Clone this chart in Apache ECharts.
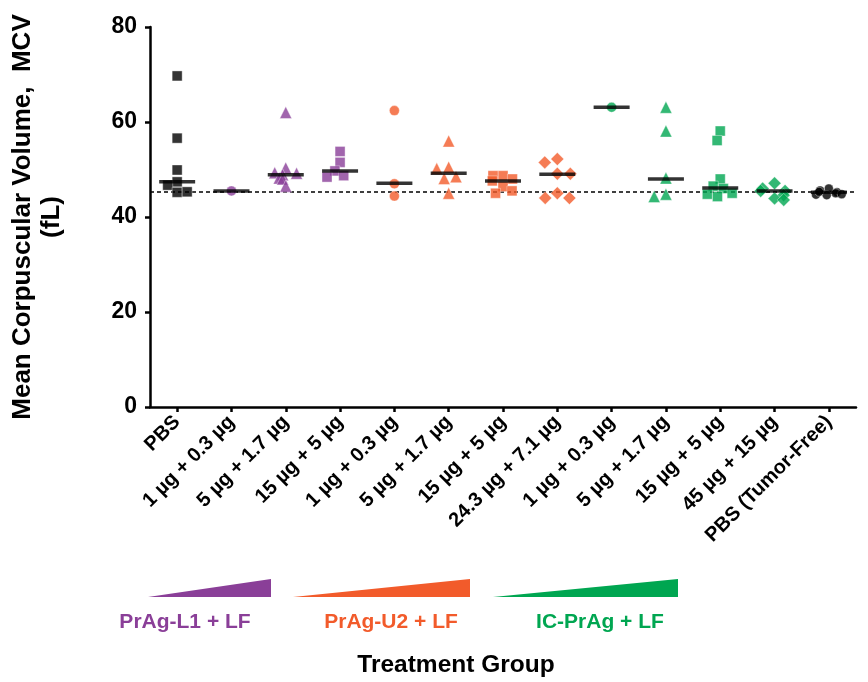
<!DOCTYPE html>
<html>
<head>
<meta charset="utf-8">
<script src="https://cdn.jsdelivr.net/npm/echarts@6/dist/echarts.min.js"></script>
<style>
html,body{margin:0;padding:0;background:#fff;}
#chart{width:868px;height:682px;}
</style>
</head>
<body>
<div id="chart"></div>
<script>
var categories = ['PBS', '1 µg + 0.3 µg', '5 µg + 1.7 µg', '15 µg + 5 µg', '1 µg + 0.3 µg', '5 µg + 1.7 µg', '15 µg + 5 µg', '24.3 µg + 7.1 µg', '1 µg + 0.3 µg', '5 µg + 1.7 µg', '15 µg + 5 µg', '45 µg + 15 µg', 'PBS (Tumor-Free)'];
var yTicks = [0, 20, 40, 60, 80];

var pbs = [69.7, 56.6, 49.9, 47.4, 46.7, 45.2, 45.3];
var l1_1_03 = [45.5];
var l1_5_17 = [62.0, 50.3, 49.3, 49.2, 48.9, 48.2, 48.0, 46.5];
var l1_15_5 = [53.8, 51.5, 49.7, 48.7, 48.4];
var u2_1_03 = [62.4, 47.0, 44.4];
var u2_5_17 = [56.0, 50.5, 50.2, 48.5, 48.1, 45.0];
var u2_15_5 = [48.7, 48.7, 48.0, 47.6, 46.4, 45.5, 45.0];
var u2_243_71 = [52.2, 51.5, 49.1, 49.1, 45.0, 44.0, 44.0];
var ic_1_03 = [63.1];
var ic_5_17 = [63.1, 58.1, 48.2, 44.8, 44.3];
var ic_15_5 = [58.1, 56.1, 48.0, 46.5, 46.0, 45.0, 44.8, 44.3];
var ic_45_15 = [47.1, 46.0, 45.5, 45.5, 44.6, 43.9, 43.6];
var pbsTumorFree = [46.0, 45.6, 45.2, 45.0, 44.7, 44.6, 44.8, 45.3];

var medians = [47.4, 45.5, 48.9, 49.7, 47.1, 49.2, 47.6, 49.0, 63.1, 48.0, 46.1, 45.5, 45.2];
var referenceLine = 45.3;

var groupLabels = ['PrAg-L1 + LF', 'PrAg-U2 + LF', 'IC-PrAg + LF'];

var PURPLE = '#8A3F98', ORANGE = '#F25B2B', GREEN = '#00A651', BLACK = '#000';
var groups = [
  {d: pbs, c: BLACK, s: 'rect', z: 10},
  {d: l1_1_03, c: PURPLE, s: 'circle', z: 10},
  {d: l1_5_17, c: PURPLE, s: 'triangle', z: 11},
  {d: l1_15_5, c: PURPLE, s: 'rect', z: 10},
  {d: u2_1_03, c: ORANGE, s: 'circle', z: 10},
  {d: u2_5_17, c: ORANGE, s: 'triangle', z: 11},
  {d: u2_15_5, c: ORANGE, s: 'rect', z: 10},
  {d: u2_243_71, c: ORANGE, s: 'diamond', z: 12},
  {d: ic_1_03, c: GREEN, s: 'circle', z: 10},
  {d: ic_5_17, c: GREEN, s: 'triangle', z: 11},
  {d: ic_15_5, c: GREEN, s: 'rect', z: 10},
  {d: ic_45_15, c: GREEN, s: 'diamond', z: 12},
  {d: pbsTumorFree, c: BLACK, s: 'circle', z: 10}
];
var sizes = {rect: 10, circle: 10, triangle: 12, diamond: 13};

var FONT = '"Liberation Sans", Arial, sans-serif';
var series = groups.map(function (g, i) {
  return {
    type: 'scatter',
    xAxisIndex: 0,
    yAxisIndex: 0,
    symbol: g.s,
    symbolSize: i === 12 ? 9 : sizes[g.s],
    itemStyle: {color: g.c, borderColor: 'rgba(255,255,255,0.6)', borderWidth: 0.8},
    z: g.z,
    silent: true,
    data: g.d.map(function (v) { return [i, v]; })
  };
});
series.push({
  type: 'scatter',
  xAxisIndex: 1,
  yAxisIndex: 0,
  symbol: 'rect',
  symbolSize: [36, 3.5],
  itemStyle: {color: '#000'},
  z: 20,
  silent: true,
  data: medians.map(function (v, i) { return [i, v]; }),
  markLine: {
    silent: true,
    symbol: 'none',
    label: {show: false},
    lineStyle: {color: '#000', type: [4, 3], width: 1.5},
    z: 1,
    data: [{yAxis: referenceLine}]
  }
});

var chart = echarts.init(document.getElementById('chart'), null, {renderer: 'canvas'});
var axisLine = {show: true, lineStyle: {color: '#000', width: 2.5}};
chart.setOption({
  animation: false,
  backgroundColor: '#fff',
  grid: {left: 146, right: 12, top: 27, bottom: 275},
  xAxis: [{
    type: 'category',
    data: categories,
    boundaryGap: true,
    jitter: 30,
    jitterOverlap: false,
    jitterMargin: 0,
    axisLine: axisLine,
    axisTick: {show: true, alignWithLabel: true, length: 5, lineStyle: {color: '#000', width: 2.5}},
    axisLabel: {interval: 0, rotate: 45, margin: 12, color: '#000', fontFamily: FONT, fontWeight: 'bold', fontSize: 20},
    splitLine: {show: false}
  }, {
    type: 'category',
    data: categories,
    boundaryGap: true,
    show: false
  }],
  yAxis: [{
    type: 'value',
    min: yTicks[0],
    max: yTicks[yTicks.length - 1],
    interval: 20,
    name: 'Mean Corpuscular Volume,  MCV\n(fL)',
    nameLocation: 'middle',
    nameRotate: 90,
    nameGap: 84,
    nameTextStyle: {color: '#000', fontFamily: FONT, fontWeight: 'bold', fontSize: 26, lineHeight: 29, align: 'center'},
    axisLine: axisLine,
    axisTick: {show: true, length: 5, lineStyle: {color: '#000', width: 2.5}},
    axisLabel: {color: '#000', fontFamily: FONT, fontWeight: 'bold', fontSize: 23, margin: 13},
    splitLine: {show: false}
  }],
  graphic: [
    {type: 'polygon', shape: {points: [[148, 597], [271, 579], [271, 597]]}, style: {fill: PURPLE}},
    {type: 'polygon', shape: {points: [[293, 597], [470, 579], [470, 597]]}, style: {fill: ORANGE}},
    {type: 'polygon', shape: {points: [[493, 597], [678, 579], [678, 597]]}, style: {fill: GREEN}},
    {type: 'text', x: 185, y: 622, style: {text: groupLabels[0], fill: PURPLE, font: 'bold 21px ' + FONT, textAlign: 'center', textVerticalAlign: 'middle'}},
    {type: 'text', x: 391, y: 622, style: {text: groupLabels[1], fill: ORANGE, font: 'bold 21px ' + FONT, textAlign: 'center', textVerticalAlign: 'middle'}},
    {type: 'text', x: 600, y: 622, style: {text: groupLabels[2], fill: GREEN, font: 'bold 21px ' + FONT, textAlign: 'center', textVerticalAlign: 'middle'}},
    {type: 'text', x: 456, y: 665, style: {text: 'Treatment Group', fill: '#000', font: 'bold 24.5px ' + FONT, textAlign: 'center', textVerticalAlign: 'middle'}}
  ],
  series: series
});
</script>
</body>
</html>
